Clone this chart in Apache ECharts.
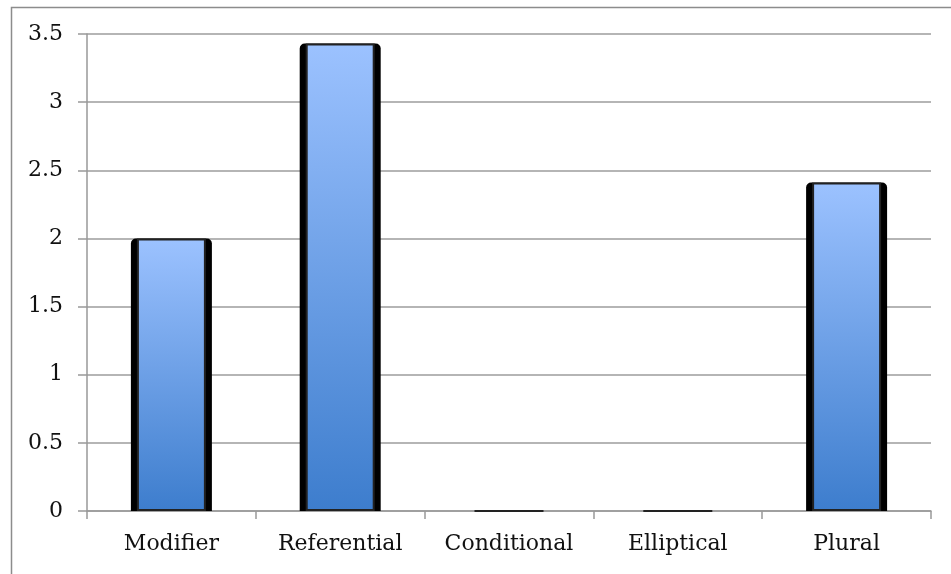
<!DOCTYPE html>
<html>
<head>
<meta charset="utf-8">
<script src="https://cdn.jsdelivr.net/npm/echarts@6/dist/echarts.min.js"></script>
<style>html,body{margin:0;padding:0;background:#fff}#c{width:951px;height:574px}</style>
</head>
<body>
<div id="c"></div>
<script>
const categories = ['Modifier', 'Referential', 'Conditional', 'Elliptical', 'Plural'];
const values = [2.0, 3.43, 0, 0, 2.41];
const yTicks = [0, 0.5, 1, 1.5, 2, 2.5, 3, 3.5];

const FONT = 'DejaVu Serif';
const chart = echarts.init(document.getElementById('c'), null, {renderer: 'canvas'});
const grad = new echarts.graphic.LinearGradient(0, 0, 0, 1, [
  {offset: 0, color: '#9cc2ff'},
  {offset: 1, color: '#3d7dcd'}
]);
chart.setOption({
  animation: false,
  backgroundColor: '#fff',
  graphic: [{
    type: 'rect', left: 9, top: 5, z: -10,
    shape: {width: 980, height: 620},
    style: {fill: 'none', stroke: '#8c8c8c', lineWidth: 1.5}
  }],
  grid: {left: 87, right: 20, top: 34, bottom: 63},
  xAxis: [{
    type: 'category', data: categories,
    axisLine: {lineStyle: {color: '#999', width: 1.5}},
    axisTick: {show: true, length: 8, lineStyle: {color: '#999', width: 1.5}},
    axisLabel: {fontFamily: FONT, fontSize: 22, color: '#111', margin: 22}
  }, {
    type: 'category', data: categories, show: false
  }],
  yAxis: {
    type: 'value', min: 0, max: 3.5, interval: 0.5,
    axisLine: {show: true, lineStyle: {color: '#999', width: 1.5}},
    axisTick: {show: true, length: 9, lineStyle: {color: '#999', width: 1.5}},
    axisLabel: {fontFamily: FONT, fontSize: 22, color: '#111', margin: 24,
      formatter: v => yTicks.includes(v) ? String(v) : ''},
    splitLine: {lineStyle: {color: '#9d9d9d', width: 1.5}}
  },
  series: [{
    type: 'bar', xAxisIndex: 0, data: values, barWidth: 81,
    itemStyle: {color: '#000', borderRadius: [5, 5, 0, 0]},
    silent: true
  }, {
    type: 'bar', xAxisIndex: 1, data: values, barWidth: 69,
    itemStyle: {color: grad, borderColor: '#222', borderWidth: 2},
    silent: true
  }]
});
</script>
</body>
</html>
